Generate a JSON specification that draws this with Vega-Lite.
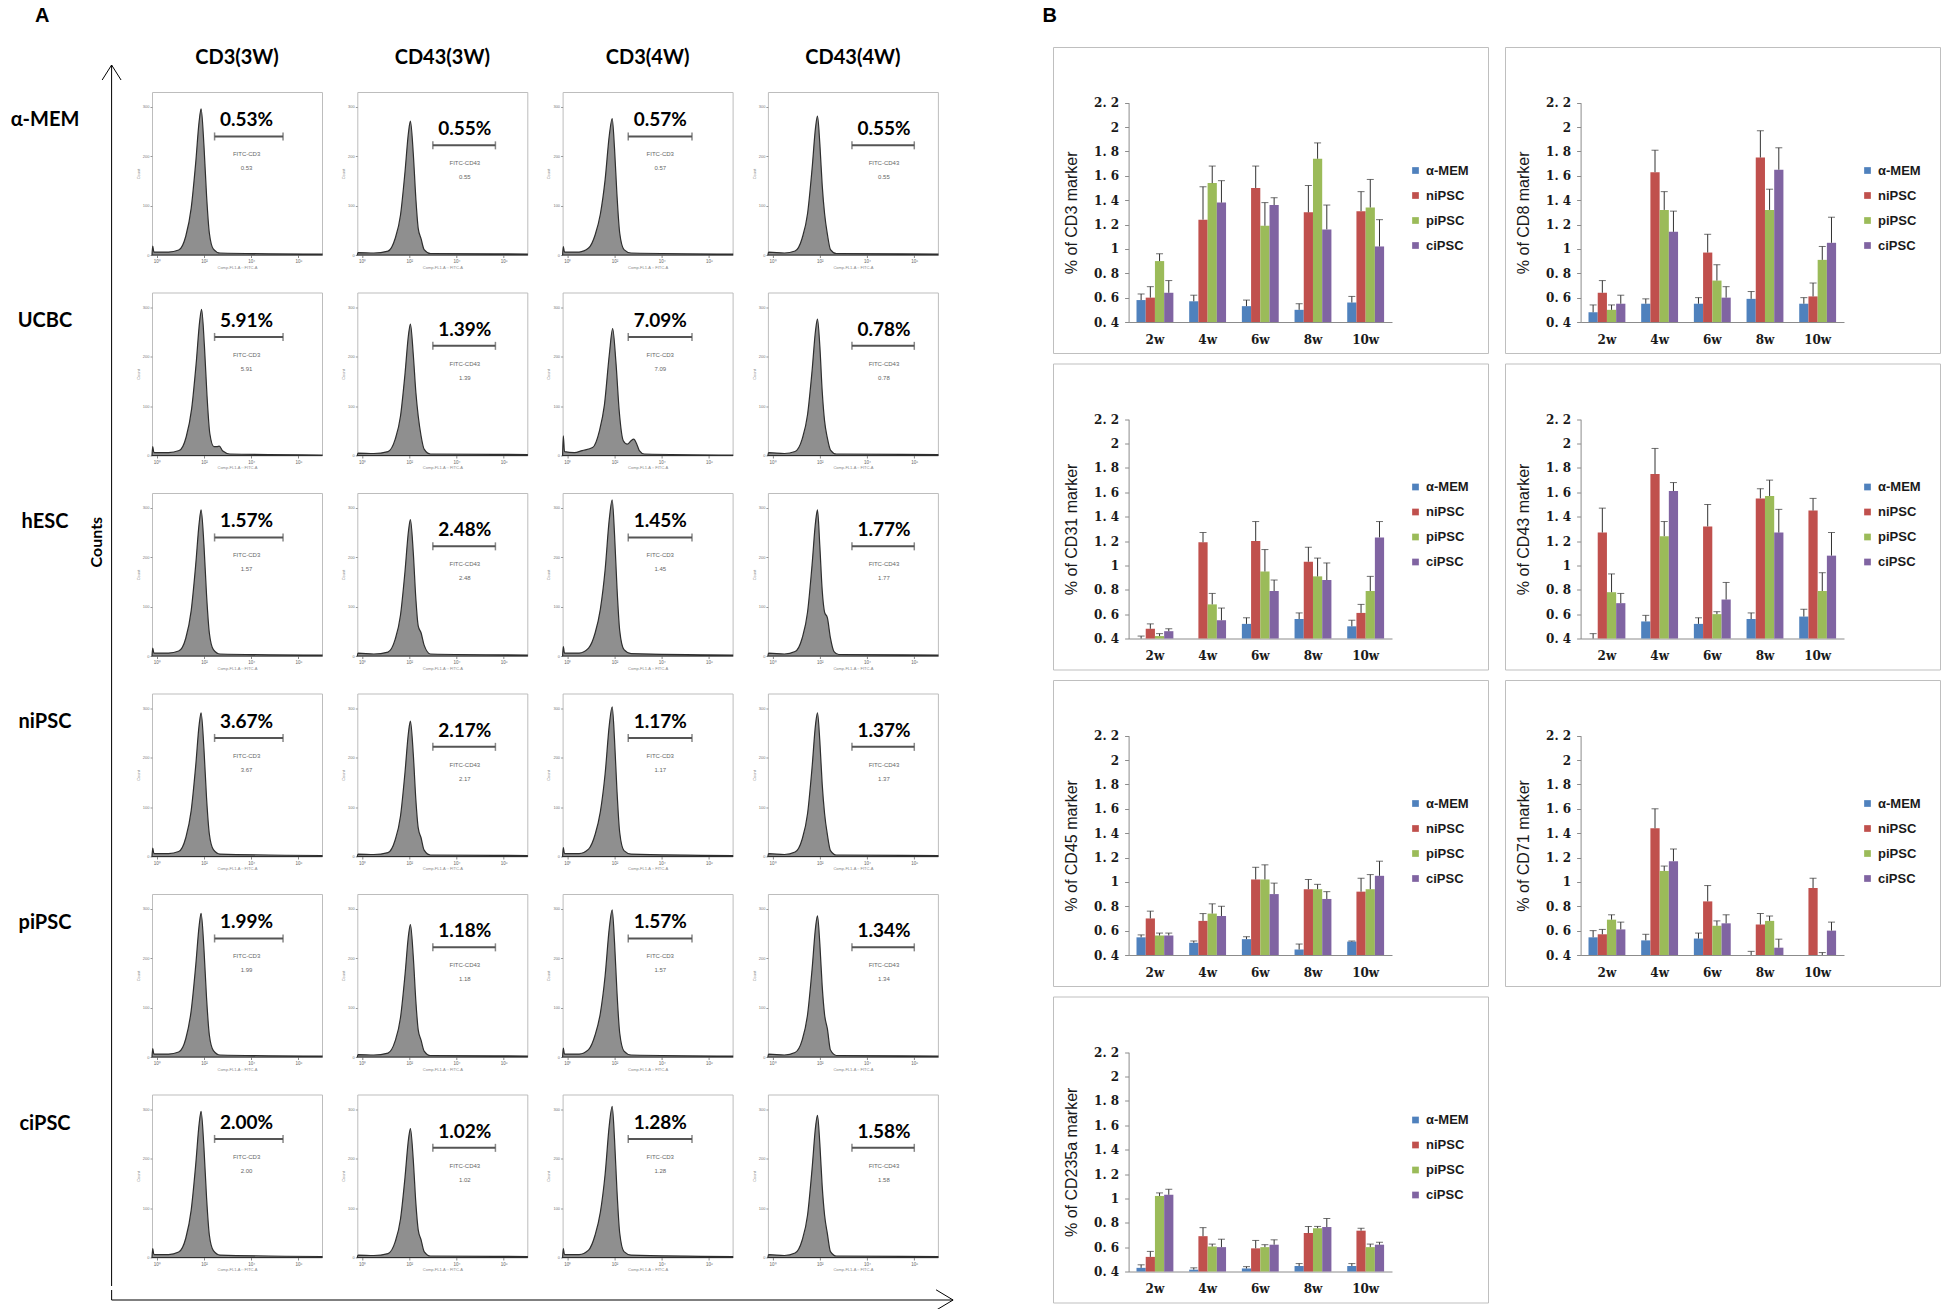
{
"$schema":"https://vega.github.io/schema/vega-lite/v6.json",
"background":"white",
"padding":{"left":0,"top":5,"right":0,"bottom":0},
"config":{"view":{"stroke":null},"font":"Liberation Sans"},
"datasets":{
"hist":[
{"s":"α-MEM","m":"CD3(3W)","x":-0.2,"c":0},{"s":"α-MEM","m":"CD3(3W)","x":-0.17,"c":18},{"s":"α-MEM","m":"CD3(3W)","x":-0.12,"c":6},{"s":"α-MEM","m":"CD3(3W)","x":0.5,"c":6},{"s":"α-MEM","m":"CD3(3W)","x":0.93,"c":10},{"s":"α-MEM","m":"CD3(3W)","x":1.23,"c":38},{"s":"α-MEM","m":"CD3(3W)","x":1.46,"c":95},{"s":"α-MEM","m":"CD3(3W)","x":1.65,"c":186},{"s":"α-MEM","m":"CD3(3W)","x":1.8,"c":272},{"s":"α-MEM","m":"CD3(3W)","x":1.88,"c":296},{"s":"α-MEM","m":"CD3(3W)","x":2.0,"c":222},{"s":"α-MEM","m":"CD3(3W)","x":2.11,"c":121},{"s":"α-MEM","m":"CD3(3W)","x":2.23,"c":44},{"s":"α-MEM","m":"CD3(3W)","x":2.4,"c":12},{"s":"α-MEM","m":"CD3(3W)","x":2.68,"c":4},{"s":"α-MEM","m":"CD3(3W)","x":7,"c":2},
{"s":"α-MEM","m":"CD43(3W)","x":-0.2,"c":0},{"s":"α-MEM","m":"CD43(3W)","x":-0.17,"c":5},{"s":"α-MEM","m":"CD43(3W)","x":0.5,"c":4},{"s":"α-MEM","m":"CD43(3W)","x":1.1,"c":8},{"s":"α-MEM","m":"CD43(3W)","x":1.4,"c":33},{"s":"α-MEM","m":"CD43(3W)","x":1.63,"c":81},{"s":"α-MEM","m":"CD43(3W)","x":1.82,"c":168},{"s":"α-MEM","m":"CD43(3W)","x":1.97,"c":249},{"s":"α-MEM","m":"CD43(3W)","x":2.05,"c":271},{"s":"α-MEM","m":"CD43(3W)","x":2.17,"c":206},{"s":"α-MEM","m":"CD43(3W)","x":2.28,"c":114},{"s":"α-MEM","m":"CD43(3W)","x":2.38,"c":54},{"s":"α-MEM","m":"CD43(3W)","x":2.5,"c":33},{"s":"α-MEM","m":"CD43(3W)","x":2.63,"c":11},{"s":"α-MEM","m":"CD43(3W)","x":2.9,"c":3},{"s":"α-MEM","m":"CD43(3W)","x":7,"c":2},
{"s":"α-MEM","m":"CD3(4W)","x":-0.2,"c":0},{"s":"α-MEM","m":"CD3(4W)","x":-0.17,"c":17},{"s":"α-MEM","m":"CD3(4W)","x":-0.12,"c":6},{"s":"α-MEM","m":"CD3(4W)","x":0.5,"c":6},{"s":"α-MEM","m":"CD3(4W)","x":0.9,"c":14},{"s":"α-MEM","m":"CD3(4W)","x":1.18,"c":41},{"s":"α-MEM","m":"CD3(4W)","x":1.4,"c":83},{"s":"α-MEM","m":"CD3(4W)","x":1.6,"c":152},{"s":"α-MEM","m":"CD3(4W)","x":1.78,"c":243},{"s":"α-MEM","m":"CD3(4W)","x":1.9,"c":276},{"s":"α-MEM","m":"CD3(4W)","x":2.0,"c":215},{"s":"α-MEM","m":"CD3(4W)","x":2.1,"c":124},{"s":"α-MEM","m":"CD3(4W)","x":2.22,"c":44},{"s":"α-MEM","m":"CD3(4W)","x":2.4,"c":11},{"s":"α-MEM","m":"CD3(4W)","x":2.7,"c":4},{"s":"α-MEM","m":"CD3(4W)","x":7,"c":2},
{"s":"α-MEM","m":"CD43(4W)","x":-0.2,"c":0},{"s":"α-MEM","m":"CD43(4W)","x":-0.17,"c":6},{"s":"α-MEM","m":"CD43(4W)","x":0.5,"c":4},{"s":"α-MEM","m":"CD43(4W)","x":0.95,"c":8},{"s":"α-MEM","m":"CD43(4W)","x":1.25,"c":34},{"s":"α-MEM","m":"CD43(4W)","x":1.48,"c":84},{"s":"α-MEM","m":"CD43(4W)","x":1.67,"c":174},{"s":"α-MEM","m":"CD43(4W)","x":1.82,"c":259},{"s":"α-MEM","m":"CD43(4W)","x":1.9,"c":281},{"s":"α-MEM","m":"CD43(4W)","x":2.0,"c":225},{"s":"α-MEM","m":"CD43(4W)","x":2.1,"c":141},{"s":"α-MEM","m":"CD43(4W)","x":2.2,"c":84},{"s":"α-MEM","m":"CD43(4W)","x":2.32,"c":42},{"s":"α-MEM","m":"CD43(4W)","x":2.45,"c":11},{"s":"α-MEM","m":"CD43(4W)","x":2.7,"c":3},{"s":"α-MEM","m":"CD43(4W)","x":7,"c":2},
{"s":"UCBC","m":"CD3(3W)","x":-0.2,"c":0},{"s":"UCBC","m":"CD3(3W)","x":-0.17,"c":18},{"s":"UCBC","m":"CD3(3W)","x":-0.12,"c":6},{"s":"UCBC","m":"CD3(3W)","x":0.5,"c":6},{"s":"UCBC","m":"CD3(3W)","x":0.95,"c":10},{"s":"UCBC","m":"CD3(3W)","x":1.25,"c":38},{"s":"UCBC","m":"CD3(3W)","x":1.48,"c":95},{"s":"UCBC","m":"CD3(3W)","x":1.67,"c":186},{"s":"UCBC","m":"CD3(3W)","x":1.82,"c":272},{"s":"UCBC","m":"CD3(3W)","x":1.9,"c":296},{"s":"UCBC","m":"CD3(3W)","x":2.02,"c":222},{"s":"UCBC","m":"CD3(3W)","x":2.13,"c":121},{"s":"UCBC","m":"CD3(3W)","x":2.25,"c":44},{"s":"UCBC","m":"CD3(3W)","x":2.42,"c":18},{"s":"UCBC","m":"CD3(3W)","x":2.55,"c":18},{"s":"UCBC","m":"CD3(3W)","x":2.65,"c":19},{"s":"UCBC","m":"CD3(3W)","x":2.8,"c":9},{"s":"UCBC","m":"CD3(3W)","x":3.1,"c":3},{"s":"UCBC","m":"CD3(3W)","x":7,"c":1},
{"s":"UCBC","m":"CD43(3W)","x":-0.2,"c":0},{"s":"UCBC","m":"CD43(3W)","x":-0.17,"c":5},{"s":"UCBC","m":"CD43(3W)","x":0.5,"c":4},{"s":"UCBC","m":"CD43(3W)","x":1.1,"c":8},{"s":"UCBC","m":"CD43(3W)","x":1.4,"c":32},{"s":"UCBC","m":"CD43(3W)","x":1.63,"c":80},{"s":"UCBC","m":"CD43(3W)","x":1.82,"c":165},{"s":"UCBC","m":"CD43(3W)","x":1.97,"c":245},{"s":"UCBC","m":"CD43(3W)","x":2.05,"c":266},{"s":"UCBC","m":"CD43(3W)","x":2.17,"c":205},{"s":"UCBC","m":"CD43(3W)","x":2.28,"c":128},{"s":"UCBC","m":"CD43(3W)","x":2.38,"c":80},{"s":"UCBC","m":"CD43(3W)","x":2.5,"c":40},{"s":"UCBC","m":"CD43(3W)","x":2.63,"c":13},{"s":"UCBC","m":"CD43(3W)","x":2.9,"c":3},{"s":"UCBC","m":"CD43(3W)","x":7,"c":2},
{"s":"UCBC","m":"CD3(4W)","x":-0.2,"c":0},{"s":"UCBC","m":"CD3(4W)","x":-0.17,"c":40},{"s":"UCBC","m":"CD3(4W)","x":-0.12,"c":8},{"s":"UCBC","m":"CD3(4W)","x":0.3,"c":6},{"s":"UCBC","m":"CD3(4W)","x":0.63,"c":10},{"s":"UCBC","m":"CD3(4W)","x":1.07,"c":16},{"s":"UCBC","m":"CD3(4W)","x":1.36,"c":50},{"s":"UCBC","m":"CD3(4W)","x":1.57,"c":102},{"s":"UCBC","m":"CD3(4W)","x":1.78,"c":205},{"s":"UCBC","m":"CD3(4W)","x":1.92,"c":257},{"s":"UCBC","m":"CD3(4W)","x":2.06,"c":188},{"s":"UCBC","m":"CD3(4W)","x":2.2,"c":89},{"s":"UCBC","m":"CD3(4W)","x":2.37,"c":30},{"s":"UCBC","m":"CD3(4W)","x":2.54,"c":23},{"s":"UCBC","m":"CD3(4W)","x":2.7,"c":30},{"s":"UCBC","m":"CD3(4W)","x":2.81,"c":33},{"s":"UCBC","m":"CD3(4W)","x":2.95,"c":22},{"s":"UCBC","m":"CD3(4W)","x":3.05,"c":10},{"s":"UCBC","m":"CD3(4W)","x":3.26,"c":3},{"s":"UCBC","m":"CD3(4W)","x":7,"c":1},
{"s":"UCBC","m":"CD43(4W)","x":-0.2,"c":0},{"s":"UCBC","m":"CD43(4W)","x":-0.17,"c":6},{"s":"UCBC","m":"CD43(4W)","x":0.5,"c":4},{"s":"UCBC","m":"CD43(4W)","x":0.95,"c":8},{"s":"UCBC","m":"CD43(4W)","x":1.25,"c":33},{"s":"UCBC","m":"CD43(4W)","x":1.48,"c":83},{"s":"UCBC","m":"CD43(4W)","x":1.67,"c":171},{"s":"UCBC","m":"CD43(4W)","x":1.82,"c":254},{"s":"UCBC","m":"CD43(4W)","x":1.9,"c":276},{"s":"UCBC","m":"CD43(4W)","x":2.0,"c":221},{"s":"UCBC","m":"CD43(4W)","x":2.1,"c":130},{"s":"UCBC","m":"CD43(4W)","x":2.2,"c":70},{"s":"UCBC","m":"CD43(4W)","x":2.32,"c":35},{"s":"UCBC","m":"CD43(4W)","x":2.45,"c":11},{"s":"UCBC","m":"CD43(4W)","x":2.7,"c":3},{"s":"UCBC","m":"CD43(4W)","x":7,"c":2},
{"s":"hESC","m":"CD3(3W)","x":-0.2,"c":0},{"s":"hESC","m":"CD3(3W)","x":-0.17,"c":16},{"s":"hESC","m":"CD3(3W)","x":-0.12,"c":6},{"s":"hESC","m":"CD3(3W)","x":0.5,"c":6},{"s":"hESC","m":"CD3(3W)","x":0.93,"c":10},{"s":"hESC","m":"CD3(3W)","x":1.23,"c":36},{"s":"hESC","m":"CD3(3W)","x":1.46,"c":92},{"s":"hESC","m":"CD3(3W)","x":1.65,"c":184},{"s":"hESC","m":"CD3(3W)","x":1.8,"c":270},{"s":"hESC","m":"CD3(3W)","x":1.88,"c":296},{"s":"hESC","m":"CD3(3W)","x":2.0,"c":225},{"s":"hESC","m":"CD3(3W)","x":2.11,"c":124},{"s":"hESC","m":"CD3(3W)","x":2.23,"c":46},{"s":"hESC","m":"CD3(3W)","x":2.4,"c":13},{"s":"hESC","m":"CD3(3W)","x":2.68,"c":4},{"s":"hESC","m":"CD3(3W)","x":7,"c":2},
{"s":"hESC","m":"CD43(3W)","x":-0.2,"c":0},{"s":"hESC","m":"CD43(3W)","x":-0.17,"c":6},{"s":"hESC","m":"CD43(3W)","x":0.5,"c":4},{"s":"hESC","m":"CD43(3W)","x":1.1,"c":8},{"s":"hESC","m":"CD43(3W)","x":1.4,"c":33},{"s":"hESC","m":"CD43(3W)","x":1.63,"c":83},{"s":"hESC","m":"CD43(3W)","x":1.82,"c":171},{"s":"hESC","m":"CD43(3W)","x":1.97,"c":254},{"s":"hESC","m":"CD43(3W)","x":2.05,"c":276},{"s":"hESC","m":"CD43(3W)","x":2.17,"c":210},{"s":"hESC","m":"CD43(3W)","x":2.28,"c":116},{"s":"hESC","m":"CD43(3W)","x":2.38,"c":61},{"s":"hESC","m":"CD43(3W)","x":2.5,"c":47},{"s":"hESC","m":"CD43(3W)","x":2.63,"c":22},{"s":"hESC","m":"CD43(3W)","x":2.9,"c":4},{"s":"hESC","m":"CD43(3W)","x":7,"c":2},
{"s":"hESC","m":"CD3(4W)","x":-0.2,"c":0},{"s":"hESC","m":"CD3(4W)","x":-0.17,"c":19},{"s":"hESC","m":"CD3(4W)","x":-0.12,"c":6},{"s":"hESC","m":"CD3(4W)","x":0.5,"c":6},{"s":"hESC","m":"CD3(4W)","x":0.9,"c":16},{"s":"hESC","m":"CD3(4W)","x":1.18,"c":47},{"s":"hESC","m":"CD3(4W)","x":1.4,"c":95},{"s":"hESC","m":"CD3(4W)","x":1.6,"c":174},{"s":"hESC","m":"CD3(4W)","x":1.78,"c":278},{"s":"hESC","m":"CD3(4W)","x":1.9,"c":316},{"s":"hESC","m":"CD3(4W)","x":2.0,"c":246},{"s":"hESC","m":"CD3(4W)","x":2.1,"c":142},{"s":"hESC","m":"CD3(4W)","x":2.22,"c":51},{"s":"hESC","m":"CD3(4W)","x":2.4,"c":13},{"s":"hESC","m":"CD3(4W)","x":2.7,"c":5},{"s":"hESC","m":"CD3(4W)","x":7,"c":2},
{"s":"hESC","m":"CD43(4W)","x":-0.2,"c":0},{"s":"hESC","m":"CD43(4W)","x":-0.17,"c":6},{"s":"hESC","m":"CD43(4W)","x":0.5,"c":4},{"s":"hESC","m":"CD43(4W)","x":0.95,"c":9},{"s":"hESC","m":"CD43(4W)","x":1.25,"c":36},{"s":"hESC","m":"CD43(4W)","x":1.48,"c":89},{"s":"hESC","m":"CD43(4W)","x":1.67,"c":184},{"s":"hESC","m":"CD43(4W)","x":1.82,"c":272},{"s":"hESC","m":"CD43(4W)","x":1.9,"c":296},{"s":"hESC","m":"CD43(4W)","x":2.0,"c":222},{"s":"hESC","m":"CD43(4W)","x":2.1,"c":133},{"s":"hESC","m":"CD43(4W)","x":2.2,"c":89},{"s":"hESC","m":"CD43(4W)","x":2.32,"c":77},{"s":"hESC","m":"CD43(4W)","x":2.45,"c":36},{"s":"hESC","m":"CD43(4W)","x":2.6,"c":9},{"s":"hESC","m":"CD43(4W)","x":2.8,"c":3},{"s":"hESC","m":"CD43(4W)","x":7,"c":2},
{"s":"niPSC","m":"CD3(3W)","x":-0.2,"c":0},{"s":"niPSC","m":"CD3(3W)","x":-0.17,"c":17},{"s":"niPSC","m":"CD3(3W)","x":-0.12,"c":6},{"s":"niPSC","m":"CD3(3W)","x":0.5,"c":6},{"s":"niPSC","m":"CD3(3W)","x":0.93,"c":10},{"s":"niPSC","m":"CD3(3W)","x":1.23,"c":38},{"s":"niPSC","m":"CD3(3W)","x":1.46,"c":93},{"s":"niPSC","m":"CD3(3W)","x":1.65,"c":183},{"s":"niPSC","m":"CD3(3W)","x":1.8,"c":268},{"s":"niPSC","m":"CD3(3W)","x":1.88,"c":291},{"s":"niPSC","m":"CD3(3W)","x":2.0,"c":218},{"s":"niPSC","m":"CD3(3W)","x":2.11,"c":119},{"s":"niPSC","m":"CD3(3W)","x":2.23,"c":45},{"s":"niPSC","m":"CD3(3W)","x":2.4,"c":14},{"s":"niPSC","m":"CD3(3W)","x":2.68,"c":5},{"s":"niPSC","m":"CD3(3W)","x":7,"c":2},
{"s":"niPSC","m":"CD43(3W)","x":-0.2,"c":0},{"s":"niPSC","m":"CD43(3W)","x":-0.17,"c":5},{"s":"niPSC","m":"CD43(3W)","x":0.5,"c":4},{"s":"niPSC","m":"CD43(3W)","x":1.1,"c":8},{"s":"niPSC","m":"CD43(3W)","x":1.4,"c":33},{"s":"niPSC","m":"CD43(3W)","x":1.63,"c":82},{"s":"niPSC","m":"CD43(3W)","x":1.82,"c":170},{"s":"niPSC","m":"CD43(3W)","x":1.97,"c":252},{"s":"niPSC","m":"CD43(3W)","x":2.05,"c":274},{"s":"niPSC","m":"CD43(3W)","x":2.17,"c":208},{"s":"niPSC","m":"CD43(3W)","x":2.28,"c":115},{"s":"niPSC","m":"CD43(3W)","x":2.38,"c":58},{"s":"niPSC","m":"CD43(3W)","x":2.5,"c":38},{"s":"niPSC","m":"CD43(3W)","x":2.63,"c":13},{"s":"niPSC","m":"CD43(3W)","x":2.9,"c":3},{"s":"niPSC","m":"CD43(3W)","x":7,"c":2},
{"s":"niPSC","m":"CD3(4W)","x":-0.2,"c":0},{"s":"niPSC","m":"CD3(4W)","x":-0.17,"c":18},{"s":"niPSC","m":"CD3(4W)","x":-0.12,"c":6},{"s":"niPSC","m":"CD3(4W)","x":0.5,"c":6},{"s":"niPSC","m":"CD3(4W)","x":0.9,"c":15},{"s":"niPSC","m":"CD3(4W)","x":1.18,"c":45},{"s":"niPSC","m":"CD3(4W)","x":1.4,"c":91},{"s":"niPSC","m":"CD3(4W)","x":1.6,"c":167},{"s":"niPSC","m":"CD3(4W)","x":1.78,"c":267},{"s":"niPSC","m":"CD3(4W)","x":1.9,"c":303},{"s":"niPSC","m":"CD3(4W)","x":2.0,"c":236},{"s":"niPSC","m":"CD3(4W)","x":2.1,"c":136},{"s":"niPSC","m":"CD3(4W)","x":2.22,"c":48},{"s":"niPSC","m":"CD3(4W)","x":2.4,"c":12},{"s":"niPSC","m":"CD3(4W)","x":2.7,"c":5},{"s":"niPSC","m":"CD3(4W)","x":7,"c":2},
{"s":"niPSC","m":"CD43(4W)","x":-0.2,"c":0},{"s":"niPSC","m":"CD43(4W)","x":-0.17,"c":6},{"s":"niPSC","m":"CD43(4W)","x":0.5,"c":4},{"s":"niPSC","m":"CD43(4W)","x":0.95,"c":9},{"s":"niPSC","m":"CD43(4W)","x":1.25,"c":35},{"s":"niPSC","m":"CD43(4W)","x":1.48,"c":87},{"s":"niPSC","m":"CD43(4W)","x":1.67,"c":180},{"s":"niPSC","m":"CD43(4W)","x":1.82,"c":268},{"s":"niPSC","m":"CD43(4W)","x":1.9,"c":291},{"s":"niPSC","m":"CD43(4W)","x":2.0,"c":233},{"s":"niPSC","m":"CD43(4W)","x":2.1,"c":146},{"s":"niPSC","m":"CD43(4W)","x":2.2,"c":87},{"s":"niPSC","m":"CD43(4W)","x":2.32,"c":44},{"s":"niPSC","m":"CD43(4W)","x":2.45,"c":12},{"s":"niPSC","m":"CD43(4W)","x":2.7,"c":3},{"s":"niPSC","m":"CD43(4W)","x":7,"c":2},
{"s":"piPSC","m":"CD3(3W)","x":-0.2,"c":0},{"s":"piPSC","m":"CD3(3W)","x":-0.17,"c":17},{"s":"piPSC","m":"CD3(3W)","x":-0.12,"c":6},{"s":"piPSC","m":"CD3(3W)","x":0.5,"c":6},{"s":"piPSC","m":"CD3(3W)","x":0.93,"c":10},{"s":"piPSC","m":"CD3(3W)","x":1.23,"c":37},{"s":"piPSC","m":"CD3(3W)","x":1.46,"c":94},{"s":"piPSC","m":"CD3(3W)","x":1.65,"c":184},{"s":"piPSC","m":"CD3(3W)","x":1.8,"c":267},{"s":"piPSC","m":"CD3(3W)","x":1.88,"c":291},{"s":"piPSC","m":"CD3(3W)","x":2.0,"c":219},{"s":"piPSC","m":"CD3(3W)","x":2.11,"c":120},{"s":"piPSC","m":"CD3(3W)","x":2.23,"c":44},{"s":"piPSC","m":"CD3(3W)","x":2.4,"c":13},{"s":"piPSC","m":"CD3(3W)","x":2.68,"c":4},{"s":"piPSC","m":"CD3(3W)","x":7,"c":2},
{"s":"piPSC","m":"CD43(3W)","x":-0.2,"c":0},{"s":"piPSC","m":"CD43(3W)","x":-0.17,"c":5},{"s":"piPSC","m":"CD43(3W)","x":0.5,"c":4},{"s":"piPSC","m":"CD43(3W)","x":1.1,"c":8},{"s":"piPSC","m":"CD43(3W)","x":1.4,"c":32},{"s":"piPSC","m":"CD43(3W)","x":1.63,"c":80},{"s":"piPSC","m":"CD43(3W)","x":1.82,"c":166},{"s":"piPSC","m":"CD43(3W)","x":1.97,"c":247},{"s":"piPSC","m":"CD43(3W)","x":2.05,"c":268},{"s":"piPSC","m":"CD43(3W)","x":2.17,"c":204},{"s":"piPSC","m":"CD43(3W)","x":2.28,"c":113},{"s":"piPSC","m":"CD43(3W)","x":2.38,"c":55},{"s":"piPSC","m":"CD43(3W)","x":2.5,"c":34},{"s":"piPSC","m":"CD43(3W)","x":2.63,"c":12},{"s":"piPSC","m":"CD43(3W)","x":2.9,"c":3},{"s":"piPSC","m":"CD43(3W)","x":7,"c":2},
{"s":"piPSC","m":"CD3(4W)","x":-0.2,"c":0},{"s":"piPSC","m":"CD3(4W)","x":-0.17,"c":18},{"s":"piPSC","m":"CD3(4W)","x":-0.12,"c":6},{"s":"piPSC","m":"CD3(4W)","x":0.5,"c":6},{"s":"piPSC","m":"CD3(4W)","x":0.9,"c":15},{"s":"piPSC","m":"CD3(4W)","x":1.18,"c":45},{"s":"piPSC","m":"CD3(4W)","x":1.4,"c":89},{"s":"piPSC","m":"CD3(4W)","x":1.6,"c":164},{"s":"piPSC","m":"CD3(4W)","x":1.78,"c":262},{"s":"piPSC","m":"CD3(4W)","x":1.9,"c":298},{"s":"piPSC","m":"CD3(4W)","x":2.0,"c":232},{"s":"piPSC","m":"CD3(4W)","x":2.1,"c":134},{"s":"piPSC","m":"CD3(4W)","x":2.22,"c":48},{"s":"piPSC","m":"CD3(4W)","x":2.4,"c":12},{"s":"piPSC","m":"CD3(4W)","x":2.7,"c":4},{"s":"piPSC","m":"CD3(4W)","x":7,"c":2},
{"s":"piPSC","m":"CD43(4W)","x":-0.2,"c":0},{"s":"piPSC","m":"CD43(4W)","x":-0.17,"c":6},{"s":"piPSC","m":"CD43(4W)","x":0.5,"c":4},{"s":"piPSC","m":"CD43(4W)","x":0.95,"c":9},{"s":"piPSC","m":"CD43(4W)","x":1.25,"c":34},{"s":"piPSC","m":"CD43(4W)","x":1.48,"c":86},{"s":"piPSC","m":"CD43(4W)","x":1.67,"c":177},{"s":"piPSC","m":"CD43(4W)","x":1.82,"c":263},{"s":"piPSC","m":"CD43(4W)","x":1.9,"c":286},{"s":"piPSC","m":"CD43(4W)","x":2.0,"c":229},{"s":"piPSC","m":"CD43(4W)","x":2.1,"c":143},{"s":"piPSC","m":"CD43(4W)","x":2.2,"c":86},{"s":"piPSC","m":"CD43(4W)","x":2.32,"c":57},{"s":"piPSC","m":"CD43(4W)","x":2.45,"c":14},{"s":"piPSC","m":"CD43(4W)","x":2.7,"c":3},{"s":"piPSC","m":"CD43(4W)","x":7,"c":2},
{"s":"ciPSC","m":"CD3(3W)","x":-0.2,"c":0},{"s":"ciPSC","m":"CD3(3W)","x":-0.17,"c":18},{"s":"ciPSC","m":"CD3(3W)","x":-0.12,"c":6},{"s":"ciPSC","m":"CD3(3W)","x":0.5,"c":6},{"s":"ciPSC","m":"CD3(3W)","x":0.93,"c":11},{"s":"ciPSC","m":"CD3(3W)","x":1.23,"c":39},{"s":"ciPSC","m":"CD3(3W)","x":1.46,"c":96},{"s":"ciPSC","m":"CD3(3W)","x":1.65,"c":187},{"s":"ciPSC","m":"CD3(3W)","x":1.8,"c":272},{"s":"ciPSC","m":"CD3(3W)","x":1.88,"c":296},{"s":"ciPSC","m":"CD3(3W)","x":2.0,"c":222},{"s":"ciPSC","m":"CD3(3W)","x":2.11,"c":122},{"s":"ciPSC","m":"CD3(3W)","x":2.23,"c":45},{"s":"ciPSC","m":"CD3(3W)","x":2.4,"c":14},{"s":"ciPSC","m":"CD3(3W)","x":2.68,"c":5},{"s":"ciPSC","m":"CD3(3W)","x":7,"c":2},
{"s":"ciPSC","m":"CD43(3W)","x":-0.2,"c":0},{"s":"ciPSC","m":"CD43(3W)","x":-0.17,"c":5},{"s":"ciPSC","m":"CD43(3W)","x":0.5,"c":4},{"s":"ciPSC","m":"CD43(3W)","x":1.1,"c":8},{"s":"ciPSC","m":"CD43(3W)","x":1.4,"c":31},{"s":"ciPSC","m":"CD43(3W)","x":1.63,"c":78},{"s":"ciPSC","m":"CD43(3W)","x":1.82,"c":162},{"s":"ciPSC","m":"CD43(3W)","x":1.97,"c":240},{"s":"ciPSC","m":"CD43(3W)","x":2.05,"c":261},{"s":"ciPSC","m":"CD43(3W)","x":2.17,"c":198},{"s":"ciPSC","m":"CD43(3W)","x":2.28,"c":110},{"s":"ciPSC","m":"CD43(3W)","x":2.38,"c":56},{"s":"ciPSC","m":"CD43(3W)","x":2.5,"c":36},{"s":"ciPSC","m":"CD43(3W)","x":2.63,"c":12},{"s":"ciPSC","m":"CD43(3W)","x":2.9,"c":3},{"s":"ciPSC","m":"CD43(3W)","x":7,"c":2},
{"s":"ciPSC","m":"CD3(4W)","x":-0.2,"c":0},{"s":"ciPSC","m":"CD3(4W)","x":-0.17,"c":18},{"s":"ciPSC","m":"CD3(4W)","x":-0.12,"c":6},{"s":"ciPSC","m":"CD3(4W)","x":0.5,"c":6},{"s":"ciPSC","m":"CD3(4W)","x":0.9,"c":15},{"s":"ciPSC","m":"CD3(4W)","x":1.18,"c":46},{"s":"ciPSC","m":"CD3(4W)","x":1.4,"c":92},{"s":"ciPSC","m":"CD3(4W)","x":1.6,"c":168},{"s":"ciPSC","m":"CD3(4W)","x":1.78,"c":269},{"s":"ciPSC","m":"CD3(4W)","x":1.9,"c":306},{"s":"ciPSC","m":"CD3(4W)","x":2.0,"c":239},{"s":"ciPSC","m":"CD3(4W)","x":2.1,"c":138},{"s":"ciPSC","m":"CD3(4W)","x":2.22,"c":49},{"s":"ciPSC","m":"CD3(4W)","x":2.4,"c":12},{"s":"ciPSC","m":"CD3(4W)","x":2.7,"c":5},{"s":"ciPSC","m":"CD3(4W)","x":7,"c":2},
{"s":"ciPSC","m":"CD43(4W)","x":-0.2,"c":0},{"s":"ciPSC","m":"CD43(4W)","x":-0.17,"c":6},{"s":"ciPSC","m":"CD43(4W)","x":0.5,"c":4},{"s":"ciPSC","m":"CD43(4W)","x":0.95,"c":9},{"s":"ciPSC","m":"CD43(4W)","x":1.25,"c":35},{"s":"ciPSC","m":"CD43(4W)","x":1.48,"c":86},{"s":"ciPSC","m":"CD43(4W)","x":1.67,"c":179},{"s":"ciPSC","m":"CD43(4W)","x":1.82,"c":265},{"s":"ciPSC","m":"CD43(4W)","x":1.9,"c":288},{"s":"ciPSC","m":"CD43(4W)","x":2.0,"c":230},{"s":"ciPSC","m":"CD43(4W)","x":2.1,"c":144},{"s":"ciPSC","m":"CD43(4W)","x":2.2,"c":86},{"s":"ciPSC","m":"CD43(4W)","x":2.32,"c":48},{"s":"ciPSC","m":"CD43(4W)","x":2.45,"c":12},{"s":"ciPSC","m":"CD43(4W)","x":2.7,"c":3},{"s":"ciPSC","m":"CD43(4W)","x":7,"c":2},
{"s":"α-MEM","m":"CD3(3W)","lo":2.45,"hi":5.35,"lv":240,"p":"0.53%","lab":"FITC-CD3","v":"0.53"},
{"s":"α-MEM","m":"CD43(3W)","lo":3.0,"hi":5.65,"lv":222,"p":"0.55%","lab":"FITC-CD43","v":"0.55"},
{"s":"α-MEM","m":"CD3(4W)","lo":2.58,"hi":5.28,"lv":240,"p":"0.57%","lab":"FITC-CD3","v":"0.57"},
{"s":"α-MEM","m":"CD43(4W)","lo":3.36,"hi":6.0,"lv":222,"p":"0.55%","lab":"FITC-CD43","v":"0.55"},
{"s":"UCBC","m":"CD3(3W)","lo":2.45,"hi":5.35,"lv":240,"p":"5.91%","lab":"FITC-CD3","v":"5.91"},
{"s":"UCBC","m":"CD43(3W)","lo":3.0,"hi":5.65,"lv":222,"p":"1.39%","lab":"FITC-CD43","v":"1.39"},
{"s":"UCBC","m":"CD3(4W)","lo":2.58,"hi":5.28,"lv":240,"p":"7.09%","lab":"FITC-CD3","v":"7.09"},
{"s":"UCBC","m":"CD43(4W)","lo":3.36,"hi":6.0,"lv":222,"p":"0.78%","lab":"FITC-CD43","v":"0.78"},
{"s":"hESC","m":"CD3(3W)","lo":2.45,"hi":5.35,"lv":240,"p":"1.57%","lab":"FITC-CD3","v":"1.57"},
{"s":"hESC","m":"CD43(3W)","lo":3.0,"hi":5.65,"lv":222,"p":"2.48%","lab":"FITC-CD43","v":"2.48"},
{"s":"hESC","m":"CD3(4W)","lo":2.58,"hi":5.28,"lv":240,"p":"1.45%","lab":"FITC-CD3","v":"1.45"},
{"s":"hESC","m":"CD43(4W)","lo":3.36,"hi":6.0,"lv":222,"p":"1.77%","lab":"FITC-CD43","v":"1.77"},
{"s":"niPSC","m":"CD3(3W)","lo":2.45,"hi":5.35,"lv":240,"p":"3.67%","lab":"FITC-CD3","v":"3.67"},
{"s":"niPSC","m":"CD43(3W)","lo":3.0,"hi":5.65,"lv":222,"p":"2.17%","lab":"FITC-CD43","v":"2.17"},
{"s":"niPSC","m":"CD3(4W)","lo":2.58,"hi":5.28,"lv":240,"p":"1.17%","lab":"FITC-CD3","v":"1.17"},
{"s":"niPSC","m":"CD43(4W)","lo":3.36,"hi":6.0,"lv":222,"p":"1.37%","lab":"FITC-CD43","v":"1.37"},
{"s":"piPSC","m":"CD3(3W)","lo":2.45,"hi":5.35,"lv":240,"p":"1.99%","lab":"FITC-CD3","v":"1.99"},
{"s":"piPSC","m":"CD43(3W)","lo":3.0,"hi":5.65,"lv":222,"p":"1.18%","lab":"FITC-CD43","v":"1.18"},
{"s":"piPSC","m":"CD3(4W)","lo":2.58,"hi":5.28,"lv":240,"p":"1.57%","lab":"FITC-CD3","v":"1.57"},
{"s":"piPSC","m":"CD43(4W)","lo":3.36,"hi":6.0,"lv":222,"p":"1.34%","lab":"FITC-CD43","v":"1.34"},
{"s":"ciPSC","m":"CD3(3W)","lo":2.45,"hi":5.35,"lv":240,"p":"2.00%","lab":"FITC-CD3","v":"2.00"},
{"s":"ciPSC","m":"CD43(3W)","lo":3.0,"hi":5.65,"lv":222,"p":"1.02%","lab":"FITC-CD43","v":"1.02"},
{"s":"ciPSC","m":"CD3(4W)","lo":2.58,"hi":5.28,"lv":240,"p":"1.28%","lab":"FITC-CD3","v":"1.28"},
{"s":"ciPSC","m":"CD43(4W)","lo":3.36,"hi":6.0,"lv":222,"p":"1.58%","lab":"FITC-CD43","v":"1.58"}
],
"bars":[
{"mk":"CD3","w":"2w","g":"α-MEM","v":0.58,"e":0.63},{"mk":"CD3","w":"2w","g":"niPSC","v":0.6,"e":0.69},{"mk":"CD3","w":"2w","g":"piPSC","v":0.9,"e":0.96},{"mk":"CD3","w":"2w","g":"ciPSC","v":0.64,"e":0.74},
{"mk":"CD3","w":"4w","g":"α-MEM","v":0.57,"e":0.62},{"mk":"CD3","w":"4w","g":"niPSC","v":1.24,"e":1.51},{"mk":"CD3","w":"4w","g":"piPSC","v":1.54,"e":1.68},{"mk":"CD3","w":"4w","g":"ciPSC","v":1.38,"e":1.56},
{"mk":"CD3","w":"6w","g":"α-MEM","v":0.53,"e":0.58},{"mk":"CD3","w":"6w","g":"niPSC","v":1.5,"e":1.68},{"mk":"CD3","w":"6w","g":"piPSC","v":1.19,"e":1.38},{"mk":"CD3","w":"6w","g":"ciPSC","v":1.36,"e":1.42},
{"mk":"CD3","w":"8w","g":"α-MEM","v":0.5,"e":0.55},{"mk":"CD3","w":"8w","g":"niPSC","v":1.3,"e":1.52},{"mk":"CD3","w":"8w","g":"piPSC","v":1.74,"e":1.87},{"mk":"CD3","w":"8w","g":"ciPSC","v":1.16,"e":1.36},
{"mk":"CD3","w":"10w","g":"α-MEM","v":0.56,"e":0.61},{"mk":"CD3","w":"10w","g":"niPSC","v":1.31,"e":1.47},{"mk":"CD3","w":"10w","g":"piPSC","v":1.34,"e":1.57},{"mk":"CD3","w":"10w","g":"ciPSC","v":1.02,"e":1.24},
{"mk":"CD8","w":"2w","g":"α-MEM","v":0.48,"e":0.54},{"mk":"CD8","w":"2w","g":"niPSC","v":0.64,"e":0.74},{"mk":"CD8","w":"2w","g":"piPSC","v":0.5,"e":0.54},{"mk":"CD8","w":"2w","g":"ciPSC","v":0.55,"e":0.62},
{"mk":"CD8","w":"4w","g":"α-MEM","v":0.55,"e":0.59},{"mk":"CD8","w":"4w","g":"niPSC","v":1.63,"e":1.81},{"mk":"CD8","w":"4w","g":"piPSC","v":1.32,"e":1.47},{"mk":"CD8","w":"4w","g":"ciPSC","v":1.14,"e":1.31},
{"mk":"CD8","w":"6w","g":"α-MEM","v":0.55,"e":0.6},{"mk":"CD8","w":"6w","g":"niPSC","v":0.97,"e":1.12},{"mk":"CD8","w":"6w","g":"piPSC","v":0.74,"e":0.87},{"mk":"CD8","w":"6w","g":"ciPSC","v":0.6,"e":0.69},
{"mk":"CD8","w":"8w","g":"α-MEM","v":0.59,"e":0.65},{"mk":"CD8","w":"8w","g":"niPSC","v":1.75,"e":1.97},{"mk":"CD8","w":"8w","g":"piPSC","v":1.32,"e":1.49},{"mk":"CD8","w":"8w","g":"ciPSC","v":1.65,"e":1.83},
{"mk":"CD8","w":"10w","g":"α-MEM","v":0.55,"e":0.6},{"mk":"CD8","w":"10w","g":"niPSC","v":0.61,"e":0.72},{"mk":"CD8","w":"10w","g":"piPSC","v":0.91,"e":1.02},{"mk":"CD8","w":"10w","g":"ciPSC","v":1.05,"e":1.26},
{"mk":"CD31","w":"2w","g":"α-MEM","v":0.4,"e":0.42},{"mk":"CD31","w":"2w","g":"niPSC","v":0.48,"e":0.52},{"mk":"CD31","w":"2w","g":"piPSC","v":0.42,"e":0.44},{"mk":"CD31","w":"2w","g":"ciPSC","v":0.46,"e":0.48},
{"mk":"CD31","w":"4w","g":"α-MEM","v":0.4},{"mk":"CD31","w":"4w","g":"niPSC","v":1.19,"e":1.27},{"mk":"CD31","w":"4w","g":"piPSC","v":0.68,"e":0.77},{"mk":"CD31","w":"4w","g":"ciPSC","v":0.55,"e":0.65},
{"mk":"CD31","w":"6w","g":"α-MEM","v":0.52,"e":0.57},{"mk":"CD31","w":"6w","g":"niPSC","v":1.2,"e":1.36},{"mk":"CD31","w":"6w","g":"piPSC","v":0.95,"e":1.13},{"mk":"CD31","w":"6w","g":"ciPSC","v":0.79,"e":0.88},
{"mk":"CD31","w":"8w","g":"α-MEM","v":0.56,"e":0.61},{"mk":"CD31","w":"8w","g":"niPSC","v":1.03,"e":1.15},{"mk":"CD31","w":"8w","g":"piPSC","v":0.91,"e":1.06},{"mk":"CD31","w":"8w","g":"ciPSC","v":0.88,"e":1.02},
{"mk":"CD31","w":"10w","g":"α-MEM","v":0.5,"e":0.55},{"mk":"CD31","w":"10w","g":"niPSC","v":0.61,"e":0.68},{"mk":"CD31","w":"10w","g":"piPSC","v":0.79,"e":0.91},{"mk":"CD31","w":"10w","g":"ciPSC","v":1.23,"e":1.36},
{"mk":"CD43","w":"2w","g":"α-MEM","v":0.4,"e":0.44},{"mk":"CD43","w":"2w","g":"niPSC","v":1.27,"e":1.47},{"mk":"CD43","w":"2w","g":"piPSC","v":0.78,"e":0.93},{"mk":"CD43","w":"2w","g":"ciPSC","v":0.69,"e":0.77},
{"mk":"CD43","w":"4w","g":"α-MEM","v":0.54,"e":0.59},{"mk":"CD43","w":"4w","g":"niPSC","v":1.75,"e":1.96},{"mk":"CD43","w":"4w","g":"piPSC","v":1.24,"e":1.36},{"mk":"CD43","w":"4w","g":"ciPSC","v":1.61,"e":1.68},
{"mk":"CD43","w":"6w","g":"α-MEM","v":0.52,"e":0.57},{"mk":"CD43","w":"6w","g":"niPSC","v":1.32,"e":1.5},{"mk":"CD43","w":"6w","g":"piPSC","v":0.6,"e":0.62},{"mk":"CD43","w":"6w","g":"ciPSC","v":0.72,"e":0.86},
{"mk":"CD43","w":"8w","g":"α-MEM","v":0.56,"e":0.61},{"mk":"CD43","w":"8w","g":"niPSC","v":1.55,"e":1.63},{"mk":"CD43","w":"8w","g":"piPSC","v":1.57,"e":1.7},{"mk":"CD43","w":"8w","g":"ciPSC","v":1.27,"e":1.46},
{"mk":"CD43","w":"10w","g":"α-MEM","v":0.58,"e":0.64},{"mk":"CD43","w":"10w","g":"niPSC","v":1.45,"e":1.55},{"mk":"CD43","w":"10w","g":"piPSC","v":0.79,"e":0.94},{"mk":"CD43","w":"10w","g":"ciPSC","v":1.08,"e":1.27},
{"mk":"CD45","w":"2w","g":"α-MEM","v":0.545,"e":0.565},{"mk":"CD45","w":"2w","g":"niPSC","v":0.7,"e":0.76},{"mk":"CD45","w":"2w","g":"piPSC","v":0.56,"e":0.58},{"mk":"CD45","w":"2w","g":"ciPSC","v":0.56,"e":0.58},
{"mk":"CD45","w":"4w","g":"α-MEM","v":0.5,"e":0.515},{"mk":"CD45","w":"4w","g":"niPSC","v":0.68,"e":0.74},{"mk":"CD45","w":"4w","g":"piPSC","v":0.74,"e":0.82},{"mk":"CD45","w":"4w","g":"ciPSC","v":0.72,"e":0.8},
{"mk":"CD45","w":"6w","g":"α-MEM","v":0.53,"e":0.55},{"mk":"CD45","w":"6w","g":"niPSC","v":1.02,"e":1.12},{"mk":"CD45","w":"6w","g":"piPSC","v":1.02,"e":1.14},{"mk":"CD45","w":"6w","g":"ciPSC","v":0.9,"e":0.99},
{"mk":"CD45","w":"8w","g":"α-MEM","v":0.445,"e":0.49},{"mk":"CD45","w":"8w","g":"niPSC","v":0.94,"e":1.02},{"mk":"CD45","w":"8w","g":"piPSC","v":0.94,"e":0.98},{"mk":"CD45","w":"8w","g":"ciPSC","v":0.86,"e":0.92},
{"mk":"CD45","w":"10w","g":"α-MEM","v":0.51,"e":0.515},{"mk":"CD45","w":"10w","g":"niPSC","v":0.92,"e":1.03},{"mk":"CD45","w":"10w","g":"piPSC","v":0.94,"e":1.06},{"mk":"CD45","w":"10w","g":"ciPSC","v":1.05,"e":1.17},
{"mk":"CD71","w":"2w","g":"α-MEM","v":0.545,"e":0.6},{"mk":"CD71","w":"2w","g":"niPSC","v":0.57,"e":0.61},{"mk":"CD71","w":"2w","g":"piPSC","v":0.69,"e":0.73},{"mk":"CD71","w":"2w","g":"ciPSC","v":0.61,"e":0.67},
{"mk":"CD71","w":"4w","g":"α-MEM","v":0.52,"e":0.57},{"mk":"CD71","w":"4w","g":"niPSC","v":1.44,"e":1.6},{"mk":"CD71","w":"4w","g":"piPSC","v":1.09,"e":1.13},{"mk":"CD71","w":"4w","g":"ciPSC","v":1.17,"e":1.27},
{"mk":"CD71","w":"6w","g":"α-MEM","v":0.535,"e":0.58},{"mk":"CD71","w":"6w","g":"niPSC","v":0.84,"e":0.97},{"mk":"CD71","w":"6w","g":"piPSC","v":0.64,"e":0.68},{"mk":"CD71","w":"6w","g":"ciPSC","v":0.66,"e":0.73},
{"mk":"CD71","w":"8w","g":"α-MEM","v":0.4,"e":0.43},{"mk":"CD71","w":"8w","g":"niPSC","v":0.65,"e":0.74},{"mk":"CD71","w":"8w","g":"piPSC","v":0.68,"e":0.72},{"mk":"CD71","w":"8w","g":"ciPSC","v":0.46,"e":0.53},
{"mk":"CD71","w":"10w","g":"α-MEM","v":0.4},{"mk":"CD71","w":"10w","g":"niPSC","v":0.95,"e":1.03},{"mk":"CD71","w":"10w","g":"piPSC","v":0.4,"e":0.42},{"mk":"CD71","w":"10w","g":"ciPSC","v":0.6,"e":0.67},
{"mk":"CD235a","w":"2w","g":"α-MEM","v":0.43,"e":0.455},{"mk":"CD235a","w":"2w","g":"niPSC","v":0.52,"e":0.565},{"mk":"CD235a","w":"2w","g":"piPSC","v":1.02,"e":1.045},{"mk":"CD235a","w":"2w","g":"ciPSC","v":1.03,"e":1.075},
{"mk":"CD235a","w":"4w","g":"α-MEM","v":0.415,"e":0.43},{"mk":"CD235a","w":"4w","g":"niPSC","v":0.69,"e":0.76},{"mk":"CD235a","w":"4w","g":"piPSC","v":0.605,"e":0.625},{"mk":"CD235a","w":"4w","g":"ciPSC","v":0.6,"e":0.665},
{"mk":"CD235a","w":"6w","g":"α-MEM","v":0.425,"e":0.44},{"mk":"CD235a","w":"6w","g":"niPSC","v":0.59,"e":0.655},{"mk":"CD235a","w":"6w","g":"piPSC","v":0.6,"e":0.62},{"mk":"CD235a","w":"6w","g":"ciPSC","v":0.62,"e":0.66},
{"mk":"CD235a","w":"8w","g":"α-MEM","v":0.445,"e":0.465},{"mk":"CD235a","w":"8w","g":"niPSC","v":0.715,"e":0.77},{"mk":"CD235a","w":"8w","g":"piPSC","v":0.755,"e":0.77},{"mk":"CD235a","w":"8w","g":"ciPSC","v":0.765,"e":0.835},
{"mk":"CD235a","w":"10w","g":"α-MEM","v":0.445,"e":0.465},{"mk":"CD235a","w":"10w","g":"niPSC","v":0.735,"e":0.755},{"mk":"CD235a","w":"10w","g":"piPSC","v":0.6,"e":0.625},{"mk":"CD235a","w":"10w","g":"ciPSC","v":0.62,"e":0.64}
]
},
"hconcat":[
{
"title":{"text":"A","anchor":"start","font":"Liberation Sans","fontSize":20,"fontWeight":"bold","dx":35,"offset":21},
"spacing":0,
"vconcat":[
{"width":10,"height":1,"data":{"values":[{"a":1}]},"mark":{"type":"point","opacity":0,"size":1}},
{"spacing":11,
"hconcat":[
{"width":120,"height":1194,
"layer":[
{"data":{"name":"hist"},"transform":[{"filter":"datum.m=='CD3(3W)' && isValid(datum.lo)"}],
"mark":{"type":"text","font":"Lato","fontSize":20,"fontWeight":"bold","dy":-67,"color":"#000"},
"encoding":{"y":{"field":"s","type":"nominal","sort":["α-MEM","UCBC","hESC","niPSC","piPSC","ciPSC"],"scale":{"type":"band","paddingInner":0.05,"paddingOuter":0},"axis":null},
"x":{"datum":0.375,"type":"quantitative","scale":{"domain":[0,1]},"axis":null},
"text":{"field":"s"}}},
{"data":{"values":[{"a":1}]},"mark":{"type":"rule","color":"#000","strokeWidth":1},
"encoding":{"x":{"datum":0.93,"type":"quantitative","scale":{"domain":[0,1]},"axis":null},"y":{"datum":1.0226,"type":"quantitative","scale":{"domain":[0,1]},"axis":null},"y2":{"datum":0}}},
{"data":{"values":[{"a":1}]},"mark":{"type":"point","shape":"M-0.63,1L0,0L0.63,1","size":900,"filled":false,"stroke":"#000","strokeWidth":1,"opacity":1},
"encoding":{"x":{"datum":0.93,"type":"quantitative","scale":{"domain":[0,1]},"axis":null},"y":{"datum":1.0226,"type":"quantitative","scale":{"domain":[0,1]},"axis":null}}},
{"data":{"values":[{"a":1}]},"mark":{"type":"text","font":"Lato","fontSize":16,"fontWeight":"bold","angle":270,"color":"#000"},
"encoding":{"x":{"datum":0.808,"type":"quantitative","scale":{"domain":[0,1]},"axis":null},"y":{"datum":0.623,"type":"quantitative","scale":{"domain":[0,1]},"axis":null},"text":{"value":"Counts"}}}
],
"resolve":{"scale":{"y":"independent"}}
},
{"data":{"name":"hist"},
"bounds":"flush",
"spacing":{"row":37.5,"column":35.3},
"facet":{
"row":{"field":"s","type":"nominal","sort":["α-MEM","UCBC","hESC","niPSC","piPSC","ciPSC"],"title":null,"header":{"labels":false}},
"column":{"field":"m","type":"nominal","sort":["CD3(3W)","CD43(3W)","CD3(4W)","CD43(4W)"],"title":null,"header":{"labelFont":"Lato","labelFontSize":20,"labelFontWeight":"bold","labelColor":"#000","labelPadding":24}}
},
"resolve":{"axis":{"x":"independent","y":"independent"}},
"spec":{
"width":170,"height":163,
"view":{"stroke":"#bdbdbd","strokeWidth":1},
"layer":[
{"transform":[{"filter":{"field":"x","valid":true}}],
"mark":{"type":"area","interpolate":"monotone","fill":"#8f8f8f","stroke":"#2e2e2e","strokeWidth":1.2,"opacity":1},
"encoding":{
"x":{"field":"x","type":"quantitative","scale":{"domain":[-0.2,7],"nice":false,"zero":false},"axis":{"values":[0,1,2,3,4,5,6,7],"labelExpr":"'10' + ['⁰','¹','²','³','⁴','⁵','⁶','⁷'][datum.value]","labelFontSize":4.5,"labelColor":"#666","tickSize":2.5,"tickColor":"#888","domain":false,"grid":false,"labelPadding":1,"title":"Comp-FL1-A :: FITC-A","titleFontSize":4,"titleFontWeight":"normal","titleColor":"#888","titlePadding":2}},
"y":{"field":"c","type":"quantitative","scale":{"domain":[0,330],"nice":false},"axis":{"values":[0,100,200,300],"labelFontSize":4,"labelColor":"#777","tickSize":2,"tickColor":"#999","domain":false,"grid":false,"labelPadding":1,"title":"Count","titleFontSize":4,"titleFontWeight":"normal","titleColor":"#888","titlePadding":2}}
}},
{"transform":[{"filter":{"field":"lo","valid":true}}],"mark":{"type":"rule","color":"#555","strokeWidth":2},
"encoding":{"x":{"field":"lo","type":"quantitative","title":"Comp-FL1-A :: FITC-A"},"x2":{"field":"hi"},"y":{"field":"lv","type":"quantitative","title":"Count"}}},
{"transform":[{"filter":{"field":"lo","valid":true}}],"mark":{"type":"tick","orient":"vertical","color":"#555","thickness":1.5,"size":8},
"encoding":{"x":{"field":"lo","type":"quantitative","title":"Comp-FL1-A :: FITC-A"},"y":{"field":"lv","type":"quantitative","title":"Count"}}},
{"transform":[{"filter":{"field":"lo","valid":true}}],"mark":{"type":"tick","orient":"vertical","color":"#555","thickness":1.5,"size":8},
"encoding":{"x":{"field":"hi","type":"quantitative","title":"Comp-FL1-A :: FITC-A"},"y":{"field":"lv","type":"quantitative","title":"Count"}}},
{"transform":[{"filter":{"field":"lo","valid":true}}],"mark":{"type":"text","font":"Lato","fontSize":19,"fontWeight":"bold","color":"#000","align":"center","baseline":"alphabetic","dx":32,"dy":-10},
"encoding":{"x":{"field":"lo","type":"quantitative","title":"Comp-FL1-A :: FITC-A"},"y":{"field":"lv","type":"quantitative","title":"Count"},"text":{"field":"p"}}},
{"transform":[{"filter":{"field":"lo","valid":true}}],"mark":{"type":"text","fontSize":6,"color":"#666","align":"center","baseline":"middle","dx":32,"dy":18},
"encoding":{"x":{"field":"lo","type":"quantitative","title":"Comp-FL1-A :: FITC-A"},"y":{"field":"lv","type":"quantitative","title":"Count"},"text":{"field":"lab"}}},
{"transform":[{"filter":{"field":"lo","valid":true}}],"mark":{"type":"text","fontSize":6,"color":"#666","align":"center","baseline":"middle","dx":32,"dy":32},
"encoding":{"x":{"field":"lo","type":"quantitative","title":"Comp-FL1-A :: FITC-A"},"y":{"field":"lv","type":"quantitative","title":"Count"},"text":{"field":"v"}}}
]
}
}
]},
{"width":955,"height":20,
"data":{"values":[{"a":1}]},
"layer":[
{"mark":{"type":"rule","color":"#000","strokeWidth":1},"encoding":{"x":{"datum":0.1169,"type":"quantitative","scale":{"domain":[0,1]},"axis":null},"x2":{"datum":0.998},"y":{"datum":0.5,"type":"quantitative","scale":{"domain":[0,1]},"axis":null}}},
{"mark":{"type":"rule","color":"#000","strokeWidth":1},"encoding":{"x":{"datum":0.1169,"type":"quantitative","scale":{"domain":[0,1]},"axis":null},"y":{"datum":1,"type":"quantitative","scale":{"domain":[0,1]},"axis":null},"y2":{"datum":0.5}}},
{"mark":{"type":"point","shape":"M-1,-0.6L0,0L-1,0.6","size":1156,"filled":false,"stroke":"#000","strokeWidth":1,"opacity":1},"encoding":{"x":{"datum":0.998,"type":"quantitative","scale":{"domain":[0,1]},"axis":null},"y":{"datum":0.5,"type":"quantitative","scale":{"domain":[0,1]},"axis":null}}}
]}
]
},
{
"title":{"text":"B","anchor":"start","font":"Liberation Sans","fontSize":20,"fontWeight":"bold","dx":-10,"offset":21},
"columns":2,
"spacing":{"row":8.5,"column":15},
"resolve":{"legend":{"color":"independent"}},
"concat":[
{"width":435,"height":306,"view":{"stroke":"#bfbfbf","strokeWidth":1},"data":{"name":"bars"},"transform":[{"filter":"datum.mk=='CD3'"}],
"encoding":{"x":{"field":"w","type":"nominal","sort":["2w","4w","6w","8w","10w"],"scale":{"range":[75.6,339],"paddingInner":0.3,"paddingOuter":0.15},"axis":{"orient":"bottom","offset":-31,"title":null,"ticks":false,"domainColor":"#8c8c8c","labelFont":"DejaVu Serif","labelFontWeight":"bold","labelFontSize":12,"labelColor":"#1a1a1a","labelPadding":12,"labelAngle":0}},
"xOffset":{"field":"g","type":"nominal","sort":["α-MEM","niPSC","piPSC","ciPSC"]},
"y":{"field":"v","type":"quantitative","title":"% of CD3 marker","scale":{"domain":[0.4,2.2],"range":[275,55.7],"nice":false,"zero":false},"axis":{"offset":-75.6,"values":[0.4,0.6,0.8,1,1.2,1.4,1.6,1.8,2,2.2],"labelExpr":"replace(format(datum.value,'.1~f'),'.','. ')","grid":false,"domainColor":"#8c8c8c","tickColor":"#8c8c8c","tickSize":4,"labelFont":"DejaVu Serif","labelFontWeight":"bold","labelFontSize":12,"labelColor":"#1a1a1a","labelPadding":6,"titleFont":"Liberation Sans","titleFontSize":16,"titleFontWeight":"normal","titleColor":"#1a1a1a","titlePadding":14}}},
"layer":[
{"mark":{"type":"bar"},"encoding":{"y2":{"datum":0.4},"color":{"field":"g","type":"nominal","sort":["α-MEM","niPSC","piPSC","ciPSC"],"scale":{"domain":["α-MEM","niPSC","piPSC","ciPSC"],"range":["#4F81BD","#C0504D","#9BBB59","#8064A2"]},"legend":{"orient":"none","legendX":356,"legendY":117,"title":null,"symbolType":"square","symbolSize":45,"symbolStrokeWidth":0,"labelFont":"Liberation Sans","labelFontWeight":"bold","labelFontSize":13,"labelColor":"#1a1a1a","rowPadding":11,"labelOffset":4}}}},
{"transform":[{"filter":{"field":"e","valid":true}}],"mark":{"type":"rule","color":"#333","strokeWidth":1},"encoding":{"y2":{"field":"e"}}},
{"transform":[{"filter":{"field":"e","valid":true}}],"mark":{"type":"tick","orient":"horizontal","color":"#333","thickness":1,"size":7},"encoding":{"y":{"field":"e","type":"quantitative","title":"% of CD3 marker"}}}
]},
{"width":435,"height":306,"view":{"stroke":"#bfbfbf","strokeWidth":1},"data":{"name":"bars"},"transform":[{"filter":"datum.mk=='CD8'"}],
"encoding":{"x":{"field":"w","type":"nominal","sort":["2w","4w","6w","8w","10w"],"scale":{"range":[75.6,339],"paddingInner":0.3,"paddingOuter":0.15},"axis":{"orient":"bottom","offset":-31,"title":null,"ticks":false,"domainColor":"#8c8c8c","labelFont":"DejaVu Serif","labelFontWeight":"bold","labelFontSize":12,"labelColor":"#1a1a1a","labelPadding":12,"labelAngle":0}},
"xOffset":{"field":"g","type":"nominal","sort":["α-MEM","niPSC","piPSC","ciPSC"]},
"y":{"field":"v","type":"quantitative","title":"% of CD8 marker","scale":{"domain":[0.4,2.2],"range":[275,55.7],"nice":false,"zero":false},"axis":{"offset":-75.6,"values":[0.4,0.6,0.8,1,1.2,1.4,1.6,1.8,2,2.2],"labelExpr":"replace(format(datum.value,'.1~f'),'.','. ')","grid":false,"domainColor":"#8c8c8c","tickColor":"#8c8c8c","tickSize":4,"labelFont":"DejaVu Serif","labelFontWeight":"bold","labelFontSize":12,"labelColor":"#1a1a1a","labelPadding":6,"titleFont":"Liberation Sans","titleFontSize":16,"titleFontWeight":"normal","titleColor":"#1a1a1a","titlePadding":14}}},
"layer":[
{"mark":{"type":"bar"},"encoding":{"y2":{"datum":0.4},"color":{"field":"g","type":"nominal","sort":["α-MEM","niPSC","piPSC","ciPSC"],"scale":{"domain":["α-MEM","niPSC","piPSC","ciPSC"],"range":["#4F81BD","#C0504D","#9BBB59","#8064A2"]},"legend":{"orient":"none","legendX":356,"legendY":117,"title":null,"symbolType":"square","symbolSize":45,"symbolStrokeWidth":0,"labelFont":"Liberation Sans","labelFontWeight":"bold","labelFontSize":13,"labelColor":"#1a1a1a","rowPadding":11,"labelOffset":4}}}},
{"transform":[{"filter":{"field":"e","valid":true}}],"mark":{"type":"rule","color":"#333","strokeWidth":1},"encoding":{"y2":{"field":"e"}}},
{"transform":[{"filter":{"field":"e","valid":true}}],"mark":{"type":"tick","orient":"horizontal","color":"#333","thickness":1,"size":7},"encoding":{"y":{"field":"e","type":"quantitative","title":"% of CD8 marker"}}}
]},
{"width":435,"height":306,"view":{"stroke":"#bfbfbf","strokeWidth":1},"data":{"name":"bars"},"transform":[{"filter":"datum.mk=='CD31'"}],
"encoding":{"x":{"field":"w","type":"nominal","sort":["2w","4w","6w","8w","10w"],"scale":{"range":[75.6,339],"paddingInner":0.3,"paddingOuter":0.15},"axis":{"orient":"bottom","offset":-31,"title":null,"ticks":false,"domainColor":"#8c8c8c","labelFont":"DejaVu Serif","labelFontWeight":"bold","labelFontSize":12,"labelColor":"#1a1a1a","labelPadding":12,"labelAngle":0}},
"xOffset":{"field":"g","type":"nominal","sort":["α-MEM","niPSC","piPSC","ciPSC"]},
"y":{"field":"v","type":"quantitative","title":"% of CD31 marker","scale":{"domain":[0.4,2.2],"range":[275,55.7],"nice":false,"zero":false},"axis":{"offset":-75.6,"values":[0.4,0.6,0.8,1,1.2,1.4,1.6,1.8,2,2.2],"labelExpr":"replace(format(datum.value,'.1~f'),'.','. ')","grid":false,"domainColor":"#8c8c8c","tickColor":"#8c8c8c","tickSize":4,"labelFont":"DejaVu Serif","labelFontWeight":"bold","labelFontSize":12,"labelColor":"#1a1a1a","labelPadding":6,"titleFont":"Liberation Sans","titleFontSize":16,"titleFontWeight":"normal","titleColor":"#1a1a1a","titlePadding":14}}},
"layer":[
{"mark":{"type":"bar"},"encoding":{"y2":{"datum":0.4},"color":{"field":"g","type":"nominal","sort":["α-MEM","niPSC","piPSC","ciPSC"],"scale":{"domain":["α-MEM","niPSC","piPSC","ciPSC"],"range":["#4F81BD","#C0504D","#9BBB59","#8064A2"]},"legend":{"orient":"none","legendX":356,"legendY":117,"title":null,"symbolType":"square","symbolSize":45,"symbolStrokeWidth":0,"labelFont":"Liberation Sans","labelFontWeight":"bold","labelFontSize":13,"labelColor":"#1a1a1a","rowPadding":11,"labelOffset":4}}}},
{"transform":[{"filter":{"field":"e","valid":true}}],"mark":{"type":"rule","color":"#333","strokeWidth":1},"encoding":{"y2":{"field":"e"}}},
{"transform":[{"filter":{"field":"e","valid":true}}],"mark":{"type":"tick","orient":"horizontal","color":"#333","thickness":1,"size":7},"encoding":{"y":{"field":"e","type":"quantitative","title":"% of CD31 marker"}}}
]},
{"width":435,"height":306,"view":{"stroke":"#bfbfbf","strokeWidth":1},"data":{"name":"bars"},"transform":[{"filter":"datum.mk=='CD43'"}],
"encoding":{"x":{"field":"w","type":"nominal","sort":["2w","4w","6w","8w","10w"],"scale":{"range":[75.6,339],"paddingInner":0.3,"paddingOuter":0.15},"axis":{"orient":"bottom","offset":-31,"title":null,"ticks":false,"domainColor":"#8c8c8c","labelFont":"DejaVu Serif","labelFontWeight":"bold","labelFontSize":12,"labelColor":"#1a1a1a","labelPadding":12,"labelAngle":0}},
"xOffset":{"field":"g","type":"nominal","sort":["α-MEM","niPSC","piPSC","ciPSC"]},
"y":{"field":"v","type":"quantitative","title":"% of CD43 marker","scale":{"domain":[0.4,2.2],"range":[275,55.7],"nice":false,"zero":false},"axis":{"offset":-75.6,"values":[0.4,0.6,0.8,1,1.2,1.4,1.6,1.8,2,2.2],"labelExpr":"replace(format(datum.value,'.1~f'),'.','. ')","grid":false,"domainColor":"#8c8c8c","tickColor":"#8c8c8c","tickSize":4,"labelFont":"DejaVu Serif","labelFontWeight":"bold","labelFontSize":12,"labelColor":"#1a1a1a","labelPadding":6,"titleFont":"Liberation Sans","titleFontSize":16,"titleFontWeight":"normal","titleColor":"#1a1a1a","titlePadding":14}}},
"layer":[
{"mark":{"type":"bar"},"encoding":{"y2":{"datum":0.4},"color":{"field":"g","type":"nominal","sort":["α-MEM","niPSC","piPSC","ciPSC"],"scale":{"domain":["α-MEM","niPSC","piPSC","ciPSC"],"range":["#4F81BD","#C0504D","#9BBB59","#8064A2"]},"legend":{"orient":"none","legendX":356,"legendY":117,"title":null,"symbolType":"square","symbolSize":45,"symbolStrokeWidth":0,"labelFont":"Liberation Sans","labelFontWeight":"bold","labelFontSize":13,"labelColor":"#1a1a1a","rowPadding":11,"labelOffset":4}}}},
{"transform":[{"filter":{"field":"e","valid":true}}],"mark":{"type":"rule","color":"#333","strokeWidth":1},"encoding":{"y2":{"field":"e"}}},
{"transform":[{"filter":{"field":"e","valid":true}}],"mark":{"type":"tick","orient":"horizontal","color":"#333","thickness":1,"size":7},"encoding":{"y":{"field":"e","type":"quantitative","title":"% of CD43 marker"}}}
]},
{"width":435,"height":306,"view":{"stroke":"#bfbfbf","strokeWidth":1},"data":{"name":"bars"},"transform":[{"filter":"datum.mk=='CD45'"}],
"encoding":{"x":{"field":"w","type":"nominal","sort":["2w","4w","6w","8w","10w"],"scale":{"range":[75.6,339],"paddingInner":0.3,"paddingOuter":0.15},"axis":{"orient":"bottom","offset":-31,"title":null,"ticks":false,"domainColor":"#8c8c8c","labelFont":"DejaVu Serif","labelFontWeight":"bold","labelFontSize":12,"labelColor":"#1a1a1a","labelPadding":12,"labelAngle":0}},
"xOffset":{"field":"g","type":"nominal","sort":["α-MEM","niPSC","piPSC","ciPSC"]},
"y":{"field":"v","type":"quantitative","title":"% of CD45 marker","scale":{"domain":[0.4,2.2],"range":[275,55.7],"nice":false,"zero":false},"axis":{"offset":-75.6,"values":[0.4,0.6,0.8,1,1.2,1.4,1.6,1.8,2,2.2],"labelExpr":"replace(format(datum.value,'.1~f'),'.','. ')","grid":false,"domainColor":"#8c8c8c","tickColor":"#8c8c8c","tickSize":4,"labelFont":"DejaVu Serif","labelFontWeight":"bold","labelFontSize":12,"labelColor":"#1a1a1a","labelPadding":6,"titleFont":"Liberation Sans","titleFontSize":16,"titleFontWeight":"normal","titleColor":"#1a1a1a","titlePadding":14}}},
"layer":[
{"mark":{"type":"bar"},"encoding":{"y2":{"datum":0.4},"color":{"field":"g","type":"nominal","sort":["α-MEM","niPSC","piPSC","ciPSC"],"scale":{"domain":["α-MEM","niPSC","piPSC","ciPSC"],"range":["#4F81BD","#C0504D","#9BBB59","#8064A2"]},"legend":{"orient":"none","legendX":356,"legendY":117,"title":null,"symbolType":"square","symbolSize":45,"symbolStrokeWidth":0,"labelFont":"Liberation Sans","labelFontWeight":"bold","labelFontSize":13,"labelColor":"#1a1a1a","rowPadding":11,"labelOffset":4}}}},
{"transform":[{"filter":{"field":"e","valid":true}}],"mark":{"type":"rule","color":"#333","strokeWidth":1},"encoding":{"y2":{"field":"e"}}},
{"transform":[{"filter":{"field":"e","valid":true}}],"mark":{"type":"tick","orient":"horizontal","color":"#333","thickness":1,"size":7},"encoding":{"y":{"field":"e","type":"quantitative","title":"% of CD45 marker"}}}
]},
{"width":435,"height":306,"view":{"stroke":"#bfbfbf","strokeWidth":1},"data":{"name":"bars"},"transform":[{"filter":"datum.mk=='CD71'"}],
"encoding":{"x":{"field":"w","type":"nominal","sort":["2w","4w","6w","8w","10w"],"scale":{"range":[75.6,339],"paddingInner":0.3,"paddingOuter":0.15},"axis":{"orient":"bottom","offset":-31,"title":null,"ticks":false,"domainColor":"#8c8c8c","labelFont":"DejaVu Serif","labelFontWeight":"bold","labelFontSize":12,"labelColor":"#1a1a1a","labelPadding":12,"labelAngle":0}},
"xOffset":{"field":"g","type":"nominal","sort":["α-MEM","niPSC","piPSC","ciPSC"]},
"y":{"field":"v","type":"quantitative","title":"% of CD71 marker","scale":{"domain":[0.4,2.2],"range":[275,55.7],"nice":false,"zero":false},"axis":{"offset":-75.6,"values":[0.4,0.6,0.8,1,1.2,1.4,1.6,1.8,2,2.2],"labelExpr":"replace(format(datum.value,'.1~f'),'.','. ')","grid":false,"domainColor":"#8c8c8c","tickColor":"#8c8c8c","tickSize":4,"labelFont":"DejaVu Serif","labelFontWeight":"bold","labelFontSize":12,"labelColor":"#1a1a1a","labelPadding":6,"titleFont":"Liberation Sans","titleFontSize":16,"titleFontWeight":"normal","titleColor":"#1a1a1a","titlePadding":14}}},
"layer":[
{"mark":{"type":"bar"},"encoding":{"y2":{"datum":0.4},"color":{"field":"g","type":"nominal","sort":["α-MEM","niPSC","piPSC","ciPSC"],"scale":{"domain":["α-MEM","niPSC","piPSC","ciPSC"],"range":["#4F81BD","#C0504D","#9BBB59","#8064A2"]},"legend":{"orient":"none","legendX":356,"legendY":117,"title":null,"symbolType":"square","symbolSize":45,"symbolStrokeWidth":0,"labelFont":"Liberation Sans","labelFontWeight":"bold","labelFontSize":13,"labelColor":"#1a1a1a","rowPadding":11,"labelOffset":4}}}},
{"transform":[{"filter":{"field":"e","valid":true}}],"mark":{"type":"rule","color":"#333","strokeWidth":1},"encoding":{"y2":{"field":"e"}}},
{"transform":[{"filter":{"field":"e","valid":true}}],"mark":{"type":"tick","orient":"horizontal","color":"#333","thickness":1,"size":7},"encoding":{"y":{"field":"e","type":"quantitative","title":"% of CD71 marker"}}}
]},
{"width":435,"height":306,"view":{"stroke":"#bfbfbf","strokeWidth":1},"data":{"name":"bars"},"transform":[{"filter":"datum.mk=='CD235a'"}],
"encoding":{"x":{"field":"w","type":"nominal","sort":["2w","4w","6w","8w","10w"],"scale":{"range":[75.6,339],"paddingInner":0.3,"paddingOuter":0.15},"axis":{"orient":"bottom","offset":-31,"title":null,"ticks":false,"domainColor":"#8c8c8c","labelFont":"DejaVu Serif","labelFontWeight":"bold","labelFontSize":12,"labelColor":"#1a1a1a","labelPadding":12,"labelAngle":0}},
"xOffset":{"field":"g","type":"nominal","sort":["α-MEM","niPSC","piPSC","ciPSC"]},
"y":{"field":"v","type":"quantitative","title":"% of CD235a marker","scale":{"domain":[0.4,2.2],"range":[275,55.7],"nice":false,"zero":false},"axis":{"offset":-75.6,"values":[0.4,0.6,0.8,1,1.2,1.4,1.6,1.8,2,2.2],"labelExpr":"replace(format(datum.value,'.1~f'),'.','. ')","grid":false,"domainColor":"#8c8c8c","tickColor":"#8c8c8c","tickSize":4,"labelFont":"DejaVu Serif","labelFontWeight":"bold","labelFontSize":12,"labelColor":"#1a1a1a","labelPadding":6,"titleFont":"Liberation Sans","titleFontSize":16,"titleFontWeight":"normal","titleColor":"#1a1a1a","titlePadding":14}}},
"layer":[
{"mark":{"type":"bar"},"encoding":{"y2":{"datum":0.4},"color":{"field":"g","type":"nominal","sort":["α-MEM","niPSC","piPSC","ciPSC"],"scale":{"domain":["α-MEM","niPSC","piPSC","ciPSC"],"range":["#4F81BD","#C0504D","#9BBB59","#8064A2"]},"legend":{"orient":"none","legendX":356,"legendY":117,"title":null,"symbolType":"square","symbolSize":45,"symbolStrokeWidth":0,"labelFont":"Liberation Sans","labelFontWeight":"bold","labelFontSize":13,"labelColor":"#1a1a1a","rowPadding":11,"labelOffset":4}}}},
{"transform":[{"filter":{"field":"e","valid":true}}],"mark":{"type":"rule","color":"#333","strokeWidth":1},"encoding":{"y2":{"field":"e"}}},
{"transform":[{"filter":{"field":"e","valid":true}}],"mark":{"type":"tick","orient":"horizontal","color":"#333","thickness":1,"size":7},"encoding":{"y":{"field":"e","type":"quantitative","title":"% of CD235a marker"}}}
]}
]
}
],
"spacing":86,
"resolve":{"legend":{"color":"independent"}}
}
